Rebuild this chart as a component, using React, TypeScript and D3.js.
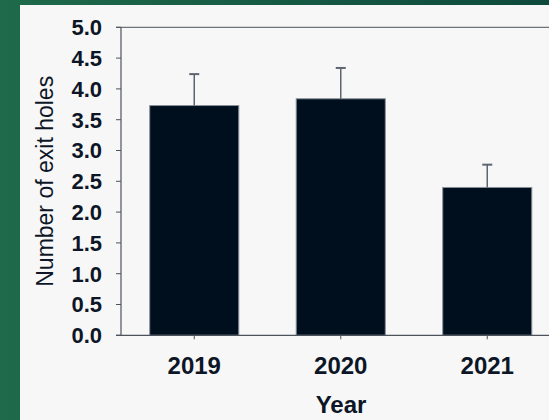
import React from "react";
import * as d3 from "d3";

const years = ["2019", "2020", "2021"];
const means = [3.73, 3.84, 2.4];
const errors = [0.51, 0.5, 0.37];
const yTicks = [0, 0.5, 1, 1.5, 2, 2.5, 3, 3.5, 4, 4.5, 5];

const W = 549;
const H = 420;
const left = 121;
const right = 560.5;
const top = 27.3;
const bottom = 335.3;

export default function App() {
  const x = d3.scaleBand<string>().domain(years).range([left, right]).paddingInner(0.392).paddingOuter(0.196);
  const y = d3.scaleLinear().domain([0, 5]).range([bottom, top]);
  const fmt = d3.format(".1f");
  const axisColor = "#4d535c";
  const textColor = "#0d1626";
  return (
    <svg width={W} height={H} style={{ position: "fixed", left: 0, top: 0, display: "block" }} fontFamily="'Liberation Sans', Arial, sans-serif">
      <defs>
        <linearGradient id="bg" x1="0" y1="0" x2="1" y2="0">
          <stop offset="0" stopColor="#1f6a4b" />
          <stop offset="1" stopColor="#0e4a3c" />
        </linearGradient>
      </defs>
      <rect x={0} y={0} width={W} height={H} fill="url(#bg)" />
      <rect x={20} y={5} width={W - 20} height={H - 5} fill="#f7f7f7" />
      {years.map((yr, i) => (
        <rect key={yr} x={x(yr)} y={y(means[i])} width={x.bandwidth()} height={y(0) - y(means[i])} fill="#000f1e" stroke="#8a909a" strokeWidth={1} />
      ))}
      {years.map((yr, i) => {
        const cx = (x(yr) as number) + x.bandwidth() / 2;
        return (
          <g key={yr} stroke="#5e6470" strokeWidth={1.5}>
            <line x1={cx} x2={cx} y1={y(means[i])} y2={y(means[i] + errors[i])} />
            <line x1={cx - 5} x2={cx + 5} y1={y(means[i] + errors[i])} y2={y(means[i] + errors[i])} strokeWidth={2} />
          </g>
        );
      })}
      <line x1={left - 5} x2={W} y1={top} y2={top} stroke={axisColor} strokeWidth={1} />
      <line x1={left - 5} x2={W} y1={bottom} y2={bottom} stroke={axisColor} strokeWidth={1.2} />
      <line x1={left} x2={left} y1={top} y2={bottom} stroke={axisColor} strokeWidth={1.2} />
      {yTicks.map((t) => (
        <g key={t}>
          <line x1={left - 5} x2={left} y1={y(t)} y2={y(t)} stroke={axisColor} strokeWidth={1} />
          <text x={102} y={y(t)} dy="0.36em" textAnchor="end" fontSize={22} fontWeight="bold" fill={textColor}>
            {fmt(t)}
          </text>
        </g>
      ))}
      {years.map((yr) => {
        const cx = (x(yr) as number) + x.bandwidth() / 2;
        return (
          <g key={yr}>
            <line x1={cx} x2={cx} y1={bottom} y2={bottom + 4} stroke={axisColor} strokeWidth={1} />
            <text x={cx} y={373.5} textAnchor="middle" fontSize={24} fontWeight="bold" fill={textColor}>
              {yr}
            </text>
          </g>
        );
      })}
      <text x={341} y={413} textAnchor="middle" fontSize={24} fontWeight="bold" fill={textColor}>
        Year
      </text>
      <text transform={`translate(53,${(top + bottom) / 2}) rotate(-90)`} textAnchor="middle" fontSize={23} fill={textColor}>
        Number of exit holes
      </text>
    </svg>
  );
}
